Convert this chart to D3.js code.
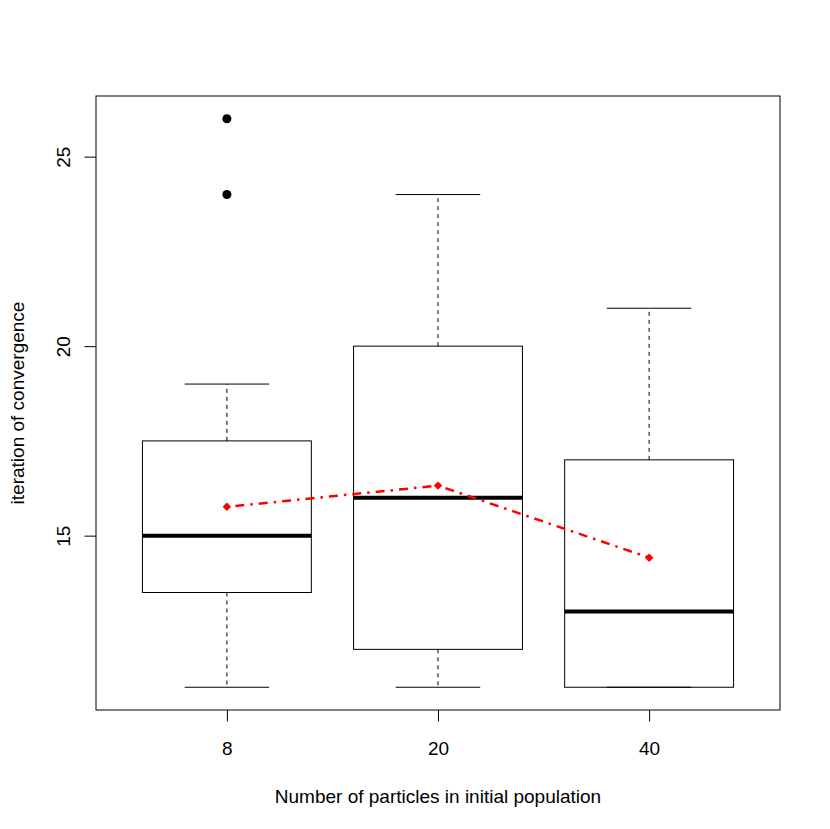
<!DOCTYPE html>
<meta charset="utf-8">
<style>
  body { margin: 0; background: #fff; }
  text { font-family: "Liberation Sans", Arial, sans-serif; fill: #000; }
</style>
<div id="chart"></div>
<script src="https://d3js.org/d3.v7.min.js"></script>
<script>

// values
var groups = ["8", "20", "40"];
var whiskLo = [11, 11, 11];
var q1 = [13.5, 12, 11];
var medians = [15, 16, 13];
var q3 = [17.5, 20, 17];
var whiskHi = [19, 24, 21];
var outliers = [[24, 26], [], []];
var means = [15.76, 16.32, 14.42];
var yTicks = [15, 20, 25];

var W = 830, H = 829;
var plot = {left: 96, right: 780, top: 96, bottom: 710};
var fs = "19px";

var svg = d3.select("#chart")
  .append("svg")
    .attr("width", W)
    .attr("height", H);

// R style: xlim 0.5..3.5 extended by 4%
var x = d3.scaleLinear()
  .domain([0.38, 3.62])
  .range([plot.left, plot.right]);

var y = d3.scaleLinear()
  .domain([10.4, 26.6])
  .range([plot.bottom, plot.top]);

var boxW = x(0.8) - x(0);
var capW = boxW / 2;

var boxes = groups.map(function(g, i) {
  return {g: g, i: i + 1, lo: whiskLo[i], q1: q1[i], med: medians[i],
          q3: q3[i], hi: whiskHi[i], out: outliers[i]};
});

var g = svg.selectAll(".box")
  .data(boxes)
  .enter()
  .append("g")
    .attr("class", "box");

// whiskers (dashed)
g.append("line")
  .attr("x1", function(d) { return x(d.i); })
  .attr("x2", function(d) { return x(d.i); })
  .attr("y1", function(d) { return y(d.q3); })
  .attr("y2", function(d) { return y(d.hi); })
  .attr("stroke", "#000")
  .attr("stroke-dasharray", "4,4");

g.append("line")
  .attr("x1", function(d) { return x(d.i); })
  .attr("x2", function(d) { return x(d.i); })
  .attr("y1", function(d) { return y(d.q1); })
  .attr("y2", function(d) { return y(d.lo); })
  .attr("stroke", "#000")
  .attr("stroke-dasharray", "4,4");

// staples
g.append("line")
  .attr("x1", function(d) { return x(d.i) - capW / 2; })
  .attr("x2", function(d) { return x(d.i) + capW / 2; })
  .attr("y1", function(d) { return y(d.hi); })
  .attr("y2", function(d) { return y(d.hi); })
  .attr("stroke", "#000");

g.append("line")
  .attr("x1", function(d) { return x(d.i) - capW / 2; })
  .attr("x2", function(d) { return x(d.i) + capW / 2; })
  .attr("y1", function(d) { return y(d.lo); })
  .attr("y2", function(d) { return y(d.lo); })
  .attr("stroke", "#000");

// box
g.append("rect")
  .attr("x", function(d) { return x(d.i) - boxW / 2; })
  .attr("y", function(d) { return y(d.q3); })
  .attr("width", boxW)
  .attr("height", function(d) { return y(d.q1) - y(d.q3); })
  .attr("fill", "none")
  .attr("stroke", "#000");

// median
g.append("line")
  .attr("x1", function(d) { return x(d.i) - boxW / 2; })
  .attr("x2", function(d) { return x(d.i) + boxW / 2; })
  .attr("y1", function(d) { return y(d.med); })
  .attr("y2", function(d) { return y(d.med); })
  .attr("stroke", "#000")
  .attr("stroke-width", 4);

// outliers
g.selectAll(".out")
  .data(function(d) { return d.out.map(function(v) { return {i: d.i, v: v}; }); })
  .enter()
  .append("circle")
    .attr("cx", function(d) { return x(d.i); })
    .attr("cy", function(d) { return y(d.v); })
    .attr("r", 4.5)
    .attr("fill", "#000");

// means line
var meanPts = means.map(function(m, i) { return [i + 1, m]; });

svg.append("path")
  .datum(meanPts)
  .attr("d", d3.line()
    .x(function(d) { return x(d[0]); })
    .y(function(d) { return y(d[1]); }))
  .attr("fill", "none")
  .attr("stroke", "#ff0000")
  .attr("stroke-width", 2.5)
  .attr("stroke-dasharray", "2.5,6,9,6");

svg.selectAll(".mean")
  .data(meanPts)
  .enter()
  .append("path")
    .attr("d", d3.symbol().type(d3.symbolSquare).size(36))
    .attr("transform", function(d) {
      return "translate(" + x(d[0]) + "," + y(d[1]) + ")rotate(45)";
    })
    .attr("fill", "#ff0000");

// frame
svg.append("rect")
  .attr("x", plot.left)
  .attr("y", plot.top)
  .attr("width", plot.right - plot.left)
  .attr("height", plot.bottom - plot.top)
  .attr("fill", "none")
  .attr("stroke", "#000");

// x axis
var xAxis = d3.axisBottom(x)
  .tickValues([1, 2, 3])
  .tickFormat(function(d) { return groups[d - 1]; })
  .tickSize(11.5)
  .tickPadding(0);

var xg = svg.append("g")
  .attr("transform", "translate(0," + plot.bottom + ")")
  .call(xAxis);
xg.select(".domain").remove();
xg.selectAll("text")
  .attr("y", 38)
  .attr("dy", null)
  .attr("dominant-baseline", "central")
  .style("font-size", fs)
  .style("font-family", "Liberation Sans, Arial, sans-serif");

// y axis
var yAxis = d3.axisLeft(y)
  .tickValues(yTicks)
  .tickSize(11.5)
  .tickPadding(0);

var yg = svg.append("g")
  .attr("transform", "translate(" + plot.left + ",0)")
  .call(yAxis);
yg.select(".domain").remove();
yg.selectAll("text")
  .attr("x", null)
  .attr("dy", null)
  .attr("transform", "translate(-33,0)rotate(-90)")
  .attr("text-anchor", "middle")
  .attr("dominant-baseline", "central")
  .style("font-size", fs)
  .style("font-family", "Liberation Sans, Arial, sans-serif");

// titles
svg.append("text")
  .attr("x", (plot.left + plot.right) / 2)
  .attr("y", 796)
  .attr("text-anchor", "middle")
  .attr("dominant-baseline", "central")
  .style("font-size", fs)
  .text("Number of particles in initial population");

svg.append("text")
  .attr("transform", "translate(17," + (plot.top + plot.bottom) / 2 + ")rotate(-90)")
  .attr("text-anchor", "middle")
  .attr("dominant-baseline", "central")
  .style("font-size", fs)
  .text("iteration of convergence");

</script>
